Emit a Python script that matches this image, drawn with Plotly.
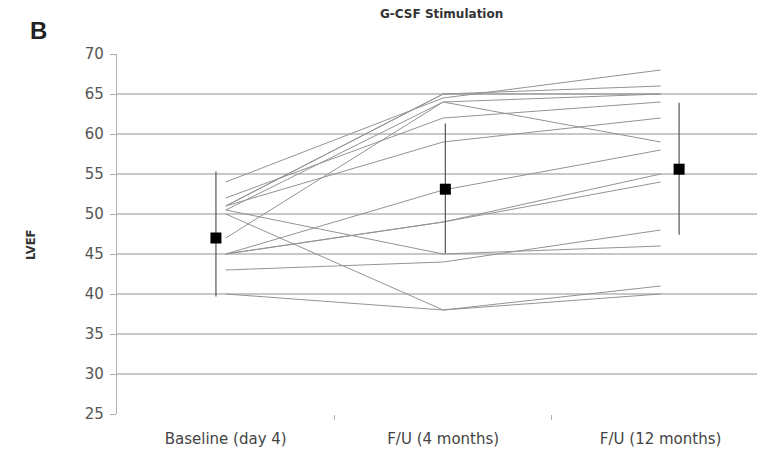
import plotly.graph_objects as go

categories = ["Baseline (day 4)", "F/U (4 months)", "F/U (12 months)"]

# individual patient LVEF values: baseline, 4 months, 12 months
patients = [
    [54, 64.5, 68],
    [52, 62, 64],
    [51, 65, 65],
    [51, 65, 66],
    [51, 59, 62],
    [50.5, 64, 59],
    [50.5, 45, 46],
    [50, 38, 41],
    [47, 64, 65],
    [45, 53, 58],
    [45, 49, 55],
    [45, 49, 54],
    [43, 44, 48],
    [40, 38, 40],
]

mean_lvef = [47.0, 53.1, 55.6]
err_plus = [8.3, 8.2, 8.3]
err_minus = [7.3, 8.0, 8.2]

y_ticks = [25, 30, 35, 40, 45, 50, 55, 60, 65, 70]

x_pos = [1, 2, 3]
mean_x_shift = [-0.045, 0.01, 0.085]

fig = go.Figure()
for p in patients:
    fig.add_trace(go.Scatter(
        x=x_pos, y=p, mode="lines",
        line=dict(color="#939393", width=1),
        showlegend=False, hoverinfo="skip"))

fig.add_trace(go.Scatter(
    x=[x + s for x, s in zip(x_pos, mean_x_shift)], y=mean_lvef,
    mode="markers",
    marker=dict(symbol="square", size=11, color="black"),
    error_y=dict(type="data", symmetric=False, array=err_plus, arrayminus=err_minus,
                 color="#555555", thickness=1.2, width=0),
    showlegend=False))

# page has an 8px body margin, so the figure is sized/placed to compensate
fig.update_layout(
    width=757, height=445,
    margin=dict(l=109, r=0, t=46, b=39, autoexpand=False),
    paper_bgcolor="white", plot_bgcolor="white",
    font=dict(family="DejaVu Sans", color="#444444"),
    xaxis=dict(range=[0.5, 3.48], tickvals=x_pos, ticktext=categories,
               showgrid=False, zeroline=False, ticks="", showline=False,
               automargin=False, ticklabelstandoff=14,
               tickfont=dict(size=15, color="#444444"),
               minor=dict(tickvals=[1.5, 2.5], ticks="outside", ticklen=5,
                          tickcolor="#b0b0b0", showgrid=False)),
    yaxis=dict(range=[25, 70], tickvals=y_ticks, showgrid=True,
               gridcolor="#c8c8c8", gridwidth=1.6, zeroline=False,
               showline=True, linecolor="#b0b0b0", linewidth=1.2,
               ticks="outside", ticklen=6, tickcolor="#b0b0b0",
               automargin=False, ticklabelstandoff=3,
               tickfont=dict(size=15, color="#555555")),
)

fig.add_annotation(text="<b>LVEF</b>", xref="paper", yref="paper",
                   x=0, xshift=-86, y=0.5, yshift=-11, textangle=-90,
                   showarrow=False, font=dict(size=11.5, color="#333333"),
                   xanchor="center", yanchor="middle")
fig.add_annotation(text="<b>G-CSF Stimulation</b>", xref="paper", yref="paper",
                   x=0.5, y=1, yshift=40, showarrow=False,
                   font=dict(size=12, color="#333333"), yanchor="middle")
fig.add_annotation(text="<b>B</b>", xref="paper", yref="paper",
                   x=0, xshift=-79, y=1, yshift=24, showarrow=False,
                   font=dict(family="Liberation Sans", size=24, color="#222222"),
                   xanchor="center", yanchor="middle")

fig.write_html("out.html")
